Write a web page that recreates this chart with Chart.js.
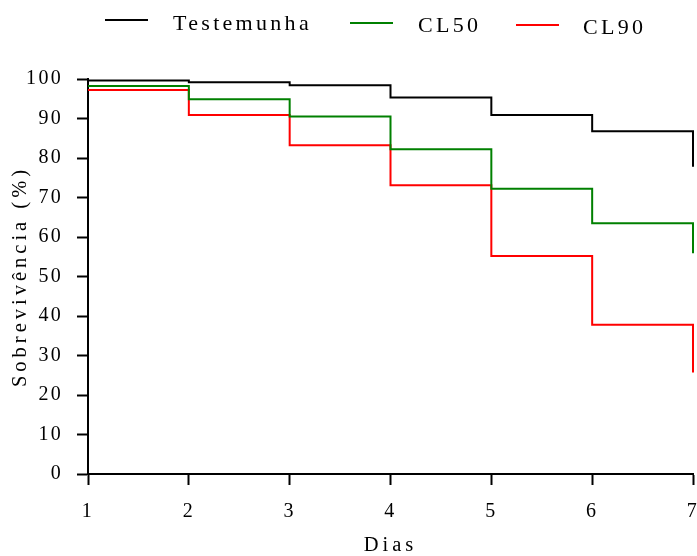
<!DOCTYPE html>
<html><head><meta charset="utf-8">
<script src="https://cdn.jsdelivr.net/npm/chart.js@4"></script>
<style>
html,body{margin:0;padding:0;background:#fff;}
#wrap{position:relative;width:697px;height:556px;}
.leg{position:absolute;font-family:"Liberation Serif",serif;font-size:22px;letter-spacing:3.3px;line-height:22px;color:#000;white-space:nowrap;}
.sw{position:absolute;height:2px;}
</style></head><body>
<div id="wrap"><canvas id="c" width="697" height="556"></canvas></div>
<script>
// ---- data ----
const days = [1, 2, 3, 4, 5, 6, 7];
const seriesNames = ['Testemunha', 'CL50', 'CL90'];
const testemunha = [99.6, 99.2, 98.4, 95.3, 90.9, 86.8, 77.8];
const cl50 = [98.2, 94.9, 90.5, 82.2, 72.2, 63.5, 55.9];
const cl90 = [97.2, 90.9, 83.2, 73.1, 55.2, 37.8, 25.7];
const seriesColors = ['#000000', '#008000', '#ff0000'];
const yTitle = 'Sobrevivência (%)';
const xTitle = 'Dias';

// letter spacing by font size (ticks vs titles)
(function(){
  const P = CanvasRenderingContext2D.prototype;
  const of = P.fillText, om = P.measureText;
  function sp(ctx){
    const f = ctx.font;
    if (f.indexOf('20.5px') >= 0) return '4px';
    if (f.indexOf('20px') >= 0) return '2.3px';
    return '0px';
  }
  P.fillText = function(t, x, y, m){ this.letterSpacing = sp(this); return m === undefined ? of.call(this, t, x, y) : of.call(this, t, x, y, m); };
  P.measureText = function(t){ this.letterSpacing = sp(this); return om.call(this, t); };
})();

const allSeries = [testemunha, cl50, cl90];
const datasets = allSeries.map((vals, i) => ({
  label: seriesNames[i],
  data: days.map((d, j) => ({x: d, y: vals[j]})),
  borderColor: seriesColors[i],
  backgroundColor: seriesColors[i],
  borderWidth: 2,
  pointRadius: 0,
  stepped: 'before',
  fill: false,
  clip: false
}));

// HTML legend
const legPos = [
  {lx:105, ly:19, tx:173, ty:12},
  {lx:350, ly:22, tx:418, ty:14},
  {lx:516, ly:24, tx:583, ty:16}
];
const wrap = document.getElementById('wrap');
seriesNames.forEach((n, i) => {
  const p = legPos[i];
  const s = document.createElement('div');
  s.className = 'sw';
  s.style.cssText = `left:${p.lx}px;top:${p.ly}px;width:43px;background:${seriesColors[i]}`;
  wrap.appendChild(s);
  const t = document.createElement('div');
  t.className = 'leg';
  t.style.left = p.tx + 'px';
  t.style.top = p.ty + 'px';
  t.textContent = n;
  wrap.appendChild(t);
});

const tickFont = {family: 'Liberation Serif', size: 20};
const titleFont = {family: 'Liberation Serif', size: 20.5, lineHeight: 1};

new Chart(document.getElementById('c'), {
  type: 'line',
  data: {datasets},
  options: {
    responsive: false,
    animation: false,
    layout: {padding: {top: 79, right: 4, left: 0, bottom: 0}},
    plugins: {legend: {display: false}, tooltip: {enabled: false}},
    scales: {
      x: {
        type: 'linear', min: 1, max: 7,
        ticks: {stepSize: 1, color: '#000', font: tickFont, padding: 15},
        grid: {drawOnChartArea: false, drawTicks: true, tickLength: 11, tickColor: '#000', tickWidth: 2},
        border: {color: '#000', width: 2},
        title: {display: true, text: xTitle, color: '#000', font: titleFont, padding: {top: 0, bottom: 0}},
        afterFit: s => { s.height = 82; s.paddingRight = 4; }
      },
      y: {
        min: 0, max: 100,
        ticks: {stepSize: 10, color: '#000', font: tickFont, padding: 14},
        grid: {drawOnChartArea: false, drawTicks: true, tickLength: 11, tickColor: '#000', tickWidth: 2},
        border: {color: '#000', width: 2},
        title: {display: true, text: yTitle, color: '#000', font: titleFont, padding: {top: 10, bottom: 0}},
        afterFit: s => { s.width = 88; }
      }
    }
  }
});
</script>
</body></html>
